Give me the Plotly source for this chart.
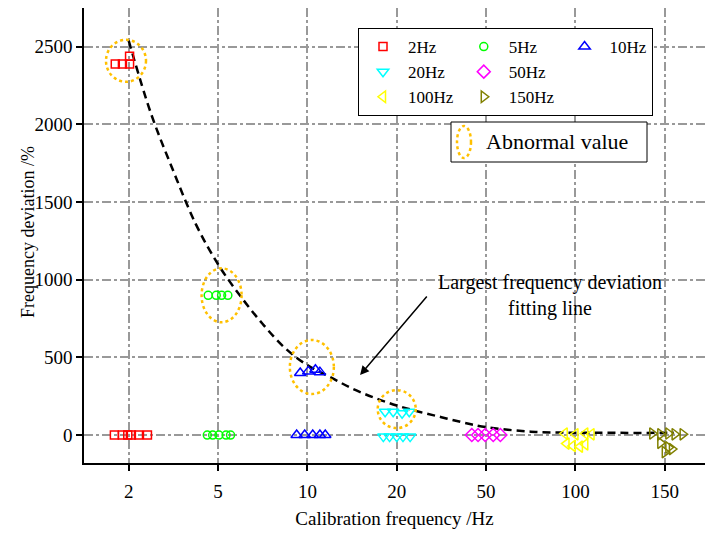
import plotly.graph_objects as go

FONT = "Liberation Serif"

categories = ["2", "5", "10", "20", "50", "100", "150"]
yticks = [0, 500, 1000, 1500, 2000, 2500]

# measured points: x = category index + visual jitter, y = deviation (%)
x_2hz = [-0.16, -0.07, -0.01, 0.03, 0.11, 0.21, -0.15, -0.07, 0.01, 0.01]
y_2hz = [0, 0, 0, 0, 0, 0, 2390, 2390, 2390, 2440]

x_5hz = [0.88, 0.94, 1.01, 1.09, 1.14, 0.89, 0.98, 1.04, 1.11]
y_5hz = [0, 0, 0, 0, 0, 900, 900, 900, 900]

x_10hz = [1.88, 1.97, 2.06, 2.14, 2.20, 1.92, 2.01, 2.09, 2.14]
y_10hz = [0, 0, 0, 0, 0, 400, 410, 420, 405]

x_20hz = [2.87, 2.96, 3.06, 3.14, 2.85, 2.92, 3.00, 3.07, 3.15]
y_20hz = [150, 150, 140, 150, -10, -10, -10, -10, -10]

x_50hz = [3.84, 3.91, 3.99, 4.08, 4.16]
y_50hz = [0, 0, 0, 0, 0]

x_100hz = [4.88, 5.00, 5.11, 5.18, 4.90, 4.97, 5.05, 5.11]
y_100hz = [10, 5, 10, 5, -55, -70, -75, -60]

x_150hz = [5.86, 5.95, 6.04, 6.11, 6.20, 5.95, 6.04, 6.00, 6.08]
y_150hz = [10, 5, 10, 5, 5, -50, -80, -110, -90]

# largest frequency deviation fitting line
fit_x = [0, 0.25, 0.5, 0.75, 1.0, 1.25, 1.5, 1.75, 2.0, 2.25, 2.5, 2.75, 3.0,
         3.25, 3.5, 3.75, 4.0, 4.5, 5.0, 5.5, 6.0, 6.1]
fit_y = [2540, 2070, 1700, 1360, 1100, 895, 715, 560, 450, 375, 300, 240, 190,
         150, 115, 80, 51, 22, 15, 14, 14, 14]

# abnormal value groups (centre of dotted ellipse)
abn_x = [-0.03, 1.04, 2.05, 3.0]
abn_y = [2410, 900, 438, 167]
abn_rx = [20, 20, 22, 19]
abn_ry = [21, 27, 27, 19]

series = [
    ("2Hz", x_2hz, y_2hz, "square-open", "#FF0000", 8, "c1"),
    ("5Hz", x_5hz, y_5hz, "circle-open", "#00FF00", 8, "c2"),
    ("10Hz", x_10hz, y_10hz, "triangle-up-open", "#0000FF", 10, "c3"),
    ("20Hz", x_20hz, y_20hz, "triangle-down-open", "#00FFFF", 10, "c1"),
    ("50Hz", x_50hz, y_50hz, "diamond-open", "#FF00FF", 10, "c2"),
    ("100Hz", x_100hz, y_100hz, "triangle-left-open", "#FFFF00", 10, "c1"),
    ("150Hz", x_150hz, y_150hz, "triangle-right-open", "#808000", 10, "c2"),
]

fig = go.Figure()

fig.add_trace(go.Scatter(x=fit_x, y=fit_y, mode="lines", line_shape="spline",
                         line=dict(color="black", width=2.5, dash="8px,5px"),
                         showlegend=False, hoverinfo="skip"))

for name, xs, ys, sym, col, sz, grp in series:
    fig.add_trace(go.Scatter(
        x=xs, y=ys, mode="markers", name=name, legendgroup=grp,
        marker=dict(symbol=sym, size=sz, color=col, line=dict(color=col, width=1.5)),
    ))

shapes = []
for cx, cy, rx, ry in zip(abn_x, abn_y, abn_rx, abn_ry):
    shapes.append(dict(type="circle", xref="x", yref="y", xsizemode="pixel", ysizemode="pixel",
                       xanchor=cx, yanchor=cy, x0=-rx, x1=rx, y0=-ry, y1=ry,
                       line=dict(color="#FFC000", width=2.5, dash="dot"), layer="above"))

# plot area pixels: left 84, right 705, top 8, bottom 463
L, R, T, B = 84, 705, 8, 463
def px(xp):
    return (xp - L) / (R - L)
def py(yp):
    return (B - yp) / (B - T)

# "Abnormal value" box
shapes.append(dict(type="rect", xref="paper", yref="paper", x0=px(451), x1=px(647), y0=py(162), y1=py(122),
                   line=dict(color="black", width=1), fillcolor="white", layer="above"))
shapes.append(dict(type="circle", xref="paper", yref="paper", x0=px(457), x1=px(471), y0=py(158), y1=py(126),
                   line=dict(color="#FFC000", width=2.5, dash="dot"), layer="above"))

annotations = [
    dict(xref="paper", yref="paper", x=px(484), y=py(142), xanchor="left", yanchor="middle",
         text="Abnormal value", showarrow=False, font=dict(family=FONT, size=22, color="black")),
    dict(xref="x", yref="y", x=4.715, y=901, text="Largest frequency deviation<br>fitting line",
         showarrow=False, align="center", font=dict(family=FONT, size=20, color="black")),
    dict(xref="x", yref="y", x=2.59, y=386, ax=68, ay=-80, axref="pixel", ayref="pixel", text="",
         showarrow=True, arrowhead=2, arrowsize=1.2, arrowwidth=1.5, arrowcolor="black"),
    dict(xref="paper", yref="paper", x=px(28), y=py(232), xanchor="center", yanchor="middle",
         text="Frequency deviation /%", textangle=-90, showarrow=False,
         font=dict(family=FONT, size=18, color="black")),
]

fig.update_layout(
    width=705, height=534,
    margin=dict(l=L, r=705 - R, t=T, b=534 - B),
    paper_bgcolor="white", plot_bgcolor="white",
    font=dict(family=FONT, size=19, color="black"),
    showlegend=True,
    legend=dict(orientation="h", traceorder="grouped", x=px(358), y=py(28),
                xanchor="left", yanchor="top", bgcolor="white", bordercolor="black",
                borderwidth=1, font=dict(family=FONT, size=17), tracegroupgap=0,
                itemwidth=40),
    shapes=shapes, annotations=annotations,
    xaxis=dict(range=[-0.5, 6.45], tickvals=list(range(len(categories))), ticktext=categories,
               showgrid=True, gridcolor="#999999", griddash="dashdot", gridwidth=1.5,
               showline=True, linecolor="black", linewidth=1.5, ticks="outside", ticklen=6,
               tickwidth=1.5, tickcolor="black", zeroline=False, ticklabelstandoff=4,
               title=dict(text="Calibration frequency /Hz", font=dict(family=FONT, size=19), standoff=11),
               tickfont=dict(family=FONT, size=19)),
    yaxis=dict(range=[-180, 2750], tickvals=yticks,
               showgrid=True, gridcolor="#999999", griddash="dashdot", gridwidth=1.5,
               showline=True, linecolor="black", linewidth=1.5, ticks="outside", ticklen=6,
               tickwidth=1.5, tickcolor="black", zeroline=False,
               tickfont=dict(family=FONT, size=19)),
)

fig.write_html("out.html")
